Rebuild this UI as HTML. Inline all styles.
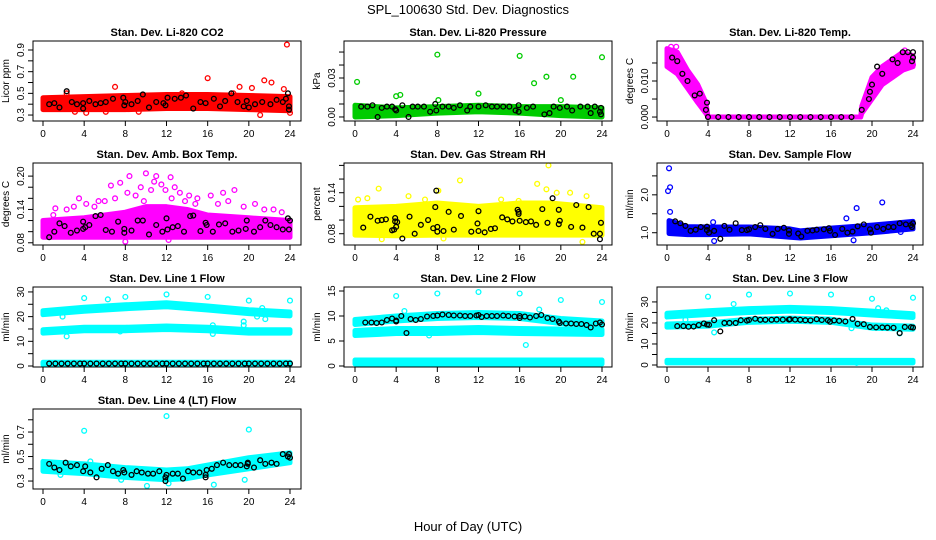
<!DOCTYPE html>
<html><head><meta charset="utf-8"><style>
html,body{margin:0;padding:0;background:#fff;}
svg{display:block;font-family:"Liberation Sans",Arial,sans-serif;}
</style></head><body>
<svg id="chart" width="936" height="540" viewBox="0 0 936 540" xmlns="http://www.w3.org/2000/svg">
<rect x="0" y="0" width="936" height="540" fill="#fff"/>
<text x="468" y="14" text-anchor="middle" font-size="13">SPL_100630  Std. Dev. Diagnostics</text>
<text x="468" y="531" text-anchor="middle" font-size="13">Hour of Day (UTC)</text>
</svg>
<script>
// ---- shared
const xTicks = [0,4,8,12,16,20,24];
// ---- CO2
const co2Band = [[0,0.35,0.46],[4,0.35,0.47],[8,0.35,0.48],[12,0.36,0.49],[16,0.36,0.49],[20,0.35,0.48],[24,0.34,0.47]];
const co2Out = [[7,0.56],[16,0.64],[21.5,0.62],[22.2,0.6],[20.3,0.55],[23.4,0.54],[24,0.32],[19.1,0.56],[21.1,0.3],[23.7,0.95],[4.2,0.32],[0.3,0.44],[2.3,0.5],[13.5,0.5],[18.5,0.5],[3.1,0.33],[6.1,0.33],[9.3,0.33]];
const co2Black = [[0.6,0.4],[1.1,0.41],[1.6,0.37],[2.3,0.52],[2.8,0.42],[3.3,0.4],[3.9,0.41],[3.9,0.36],[4.5,0.43],[5.1,0.4],[5.6,0.41],[6.1,0.42],[6.8,0.45],[7.8,0.46],[8.0,0.42],[7.9,0.39],[8.6,0.4],[9.2,0.43],[9.7,0.49],[10.3,0.37],[11.0,0.42],[11.7,0.41],[12.1,0.46],[11.9,0.39],[12.8,0.45],[13.4,0.46],[13.9,0.48],[14.6,0.36],[15.3,0.42],[15.8,0.41],[16.6,0.45],[17.2,0.38],[17.7,0.43],[18.3,0.5],[18.9,0.42],[19.5,0.38],[19.8,0.43],[20.0,0.37],[20.6,0.4],[21.3,0.42],[22.1,0.4],[22.7,0.44],[23.3,0.42],[23.6,0.45],[23.8,0.5],[23.9,0.38],[23.9,0.35]];
// ---- Pressure
const prBand = [[0,0.0,0.009],[4,0.001,0.007],[8,0.003,0.008],[12,0.004,0.009],[16,0.003,0.008],[20,0.001,0.008],[24,0.0,0.007]];
const prOut = [[0.2,0.027],[4.0,0.016],[4.4,0.017],[8,0.048],[8.1,0.013],[12,0.018],[16,0.047],[17.4,0.026],[18.6,0.031],[20,0.013],[21.2,0.031],[24,0.046]];
const prBlack = [[0.6,0.008],[1.2,0.008],[1.7,0.009],[2.2,0.0],[2.6,0.007],[3.1,0.008],[3.6,0.008],[3.9,0.006],[4.0,0.005],[4.6,0.009],[5.2,0.0],[5.6,0.008],[6.1,0.008],[6.7,0.008],[7.3,0.004],[7.8,0.010],[7.9,0.005],[8.5,0.008],[9.1,0.008],[9.6,0.007],[10.2,0.009],[10.9,0.005],[11.2,0.008],[12.0,0.008],[12.7,0.009],[13.3,0.008],[13.8,0.008],[14.4,0.008],[15.0,0.008],[15.6,0.005],[15.9,0.004],[15.9,0.009],[16.7,0.007],[17.3,0.008],[18.4,0.002],[18.9,0.003],[19.3,0.008],[19.9,0.007],[20.6,0.008],[21.1,0.005],[21.9,0.008],[22.6,0.008],[22.9,0.003],[23.3,0.008],[23.8,0.004],[23.9,0.007],[23.9,0.002]];
// ---- Li-820 Temp
const tpBand = [[0,0.014,0.019],[1,0.012,0.018],[2,0.008,0.013],[3,0.004,0.009],[3.8,0.001,0.004],[4,0,0],[18.9,0,0],[19,0.001,0.003],[20,0.005,0.011],[21,0.009,0.014],[22,0.011,0.016],[23,0.013,0.018],[24,0.014,0.017]];
const tpOut = [[0.4,0.0195],[0.9,0.0195],[23.2,0.0185],[20.7,0.0085],[24,0.0145]];
const tpBlack = [[0.5,0.0165],[1,0.0155],[1.5,0.012],[2,0.010],[2.7,0.006],[3.2,0.0065],[3.9,0.004],[3.8,0.002],[4,0],[5,0],[6,0],[7,0],[8,0],[9,0],[10,0],[11,0],[12,0],[13,0],[14,0],[15,0],[16,0],[17,0],[18,0],[19,0.002],[19.7,0.005],[19.8,0.007],[20,0.009],[20.5,0.014],[21,0.012],[22,0.016],[22.5,0.015],[23,0.018],[23.5,0.018],[24,0.018],[24,0.0165],[23.9,0.0155]];
// ---- Amb Box Temp
const abBand = [[0,0.09,0.12],[4,0.09,0.125],[8,0.09,0.135],[10,0.09,0.145],[12,0.09,0.145],[14,0.09,0.14],[16,0.09,0.13],[20,0.09,0.125],[24,0.09,0.12]];
const abOut = [[10,0.205],[8.4,0.2],[11,0.2],[12.4,0.198],[6.6,0.183],[7.5,0.188],[3.5,0.16],[4.2,0.15],[17.5,0.17],[18.6,0.175],[12.2,0.085],[8,0.082],[1.2,0.142],[20.6,0.15],[5.4,0.155],[2.3,0.14],[22.4,0.14],[9.5,0.18],[10.5,0.175],[11.5,0.185],[12.8,0.18],[13.3,0.17],[9,0.165],[8.2,0.17],[10.8,0.19],[11.9,0.175],[14.2,0.165],[15,0.16],[16.3,0.165],[7,0.16],[6,0.155],[14.8,0.15],[9.8,0.155],[12.5,0.16],[13.8,0.155],[17,0.15],[18,0.155],[19.5,0.145],[21.5,0.14],[3,0.145],[1,0.13],[5,0.145],[23.2,0.135]];
const abBlack = [[0.6,0.09],[1.1,0.1],[1.6,0.115],[2.1,0.11],[2.7,0.098],[3.3,0.102],[3.9,0.118],[3.9,0.105],[4.1,0.108],[4.5,0.112],[5.1,0.128],[5.6,0.13],[6.1,0.103],[6.7,0.1],[7.3,0.118],[7.9,0.105],[7.9,0.098],[8.6,0.102],[9.2,0.12],[9.7,0.12],[10.3,0.095],[11.0,0.112],[11.6,0.1],[12.0,0.124],[12.1,0.104],[12.6,0.108],[13.1,0.11],[13.7,0.1],[14.3,0.128],[14.6,0.129],[15.3,0.101],[15.8,0.116],[15.9,0.112],[16.5,0.1],[17.1,0.113],[17.7,0.115],[18.4,0.1],[19.0,0.102],[19.7,0.105],[19.8,0.12],[20.5,0.1],[21.1,0.108],[21.6,0.12],[22.1,0.112],[22.7,0.108],[23.3,0.104],[23.9,0.104],[23.8,0.124],[24,0.12]];
// ---- Gas Stream RH
const rhBand = [[0,0.078,0.118],[4,0.077,0.12],[8,0.078,0.125],[12,0.078,0.12],[16,0.078,0.125],[19,0.078,0.125],[24,0.078,0.118]];
const rhOut = [[18.8,0.18],[10.2,0.158],[2.3,0.146],[0.3,0.13],[1.2,0.132],[17.7,0.153],[18.6,0.145],[8.1,0.143],[19.6,0.14],[20.9,0.14],[22.5,0.135],[5.2,0.135],[15.9,0.128],[22.1,0.068],[2.6,0.072],[8.6,0.073],[6.8,0.13],[14.2,0.13]];
const rhBlack = [[0.8,0.089],[1.5,0.105],[2.2,0.099],[2.6,0.1],[3.0,0.101],[3.6,0.085],[3.8,0.086],[4.0,0.09],[3.9,0.098],[3.9,0.103],[4.1,0.097],[4.6,0.073],[5.3,0.105],[5.8,0.08],[6.4,0.093],[7.1,0.1],[7.6,0.088],[8.0,0.09],[8.0,0.083],[7.9,0.143],[7.8,0.119],[8.6,0.084],[9.1,0.112],[9.6,0.086],[10.3,0.106],[11.3,0.083],[12.0,0.113],[11.9,0.095],[12.0,0.084],[12.6,0.082],[13.2,0.087],[13.6,0.088],[14.3,0.104],[14.8,0.101],[15.3,0.098],[15.9,0.109],[15.9,0.112],[15.8,0.115],[16.0,0.099],[16.6,0.097],[17.1,0.098],[17.6,0.093],[18.2,0.116],[18.7,0.096],[19.2,0.132],[19.8,0.094],[19.9,0.099],[19.8,0.115],[21.0,0.09],[21.5,0.122],[22.1,0.089],[22.7,0.119],[23.2,0.08],[23.8,0.08],[23.8,0.072],[23.9,0.096]];
// ---- Sample Flow
const sfBand = [[0.2,0.98,1.32],[2,0.95,1.16],[4,0.95,1.15],[8,0.97,1.15],[12,0.88,1.1],[13,0.86,1.05],[16,0.92,1.12],[20,1.0,1.2],[24,1.1,1.3]];
const sfOut = [[0.2,2.7],[0.3,2.2],[0.1,2.1],[0.3,1.55],[17.5,1.38],[18.5,1.65],[21,1.8],[4.6,0.78],[22.8,1.02],[4.5,1.28],[18.2,0.8]];
const sfBlack = [[0.8,1.3],[1.3,1.25],[1.8,1.18],[2.3,1.05],[2.8,1.08],[3.3,1.15],[3.9,1.16],[3.9,1.07],[4.1,1.0],[4.6,1.05],[5.2,0.84],[5.6,1.18],[6.1,1.08],[6.7,1.25],[7.3,1.07],[7.8,1.07],[8.0,1.09],[8.6,1.15],[9.1,1.2],[9.6,1.1],[10.3,0.97],[10.8,1.1],[11.4,1.13],[11.9,1.06],[11.9,0.97],[12.8,0.98],[13.1,0.9],[13.7,1.05],[14.2,1.06],[14.6,1.08],[15.3,1.09],[15.8,1.12],[15.9,1.05],[16.4,0.94],[17.1,1.1],[17.6,1.0],[18.1,1.03],[18.6,1.17],[19.2,1.22],[19.8,1.09],[19.9,1.0],[20.5,1.15],[21.1,1.1],[21.6,1.15],[22.1,1.15],[22.7,1.25],[23.3,1.22],[23.8,1.2],[23.9,1.15],[24,1.25]];
// ---- Line 1 Flow
const l1BandTop = [[0,20.8,22.4],[4,22.2,23.8],[8,23.2,24.8],[12,24,25.6],[16,22.7,24.3],[20,21.2,22.8],[24,20.3,21.9]];
const l1BandMid = [[0,13.3,14.7],[4,14.3,15.7],[8,14.3,15.7],[12,14.8,16.2],[16,14.3,15.7],[20,13.3,14.7],[24,13.3,14.7]];
const l1BandLow = [[0,0.5,1.5],[24,0.5,1.5]];
const l1Out = [[4,27.5],[6.3,27],[8,28],[12,29],[16,28],[20,26.5],[24,26.5],[1.9,20],[2.3,12],[16.5,13],[20.8,20],[21.3,23.5],[21.6,19],[19.5,18],[19.5,16.5],[7.5,14],[16.5,16.5],[6,24]];
const l1Black = [[0.6,1],[1.2,1],[1.8,1],[2.4,1],[3,1],[3.6,1],[4,1],[4.6,1],[5.2,1],[5.8,1],[6.4,1],[7,1],[7.6,1],[8,1],[8.6,1],[9.2,1],[9.8,1],[10.4,1],[11,1],[11.6,1],[12,1],[12.6,1],[13.2,1],[13.8,1],[14.4,1],[15,1],[15.6,1],[16,1],[16.6,1],[17.2,1],[17.8,1],[18.4,1],[19,1],[19.6,1],[20,1],[20.6,1],[21.2,1],[21.8,1],[22.4,1],[23,1],[23.6,1],[24,1]];
// ---- Line 2 Flow
const l2BandTop = [[0,8.3,9.3],[4,9,10],[8,9.5,10.5],[12,9.7,10.7],[16,9.5,10.5],[20,8.5,9.5],[24,8,9]];
const l2BandMid = [[0,6.1,7.1],[4,6.5,7.5],[8,6.5,7.5],[12,6.7,7.7],[16,6.5,7.5],[20,6.4,7.4],[24,6.3,7.3]];
const l2BandLow = [[0,0.4,1.2],[24,0.4,1.2]];
const l2Out = [[4,14],[8,14.5],[12,14.8],[16,14.5],[20,13.2],[24,12.8],[16.6,4.2],[4.8,11],[17.9,11.3],[7.2,6.1]];
const l2Black = [[1,8.7],[1.6,8.7],[2.1,8.6],[2.6,8.7],[3.1,9.2],[3.6,9.5],[4,9.1],[4,8.9],[4.5,10],[5,6.6],[5.4,9.4],[5.9,9.2],[6.4,9.4],[7,9.9],[7.6,10],[8,10.1],[8.5,10.3],[9.1,10.2],[9.6,10.1],[10.2,10.1],[10.7,10],[11.2,10],[11.8,10.1],[12,10.2],[12.3,9.8],[12.8,10],[13.3,10],[13.8,10],[14.4,10.1],[14.9,10],[15.5,9.9],[16,9.6],[16,10],[16.5,9.9],[17,9.7],[17.6,10],[18.1,10.2],[18.7,9.6],[19.2,9.4],[19.8,8.9],[19.9,8.6],[20.5,8.5],[21,8.5],[21.5,8.4],[22,8.4],[22.5,8.2],[22.9,7.7],[23.4,8.5],[23.8,8.7],[24,8.3]];
// ---- Line 3 Flow
const l3BandTop = [[0,22.8,24.6],[4,24,25.8],[8,25,26.8],[12,25.6,27.4],[16,25,26.8],[20,23.8,25.6],[24,22.6,24.4]];
const l3BandMid = [[0,18,19.5],[4,18.5,20],[8,20.3,21.8],[12,20.8,22.3],[16,20.3,21.8],[20,17.5,19],[24,17,18.5]];
const l3BandLow = [[0,1,2.2],[24,1,2.2]];
const l3Out = [[4,32.5],[8,33.5],[12,34],[16,33.5],[20,31.5],[24,32],[6.5,29],[4.6,15.5],[22.7,15],[1.8,21.5],[20.6,27],[21.4,26],[18,17.5],[18.5,1]];
const l3Black = [[1,18.5],[1.6,18.5],[2.1,18.2],[2.6,18.3],[3.1,19],[3.6,19.8],[3.9,19.2],[4.1,19.1],[4.6,21.3],[5.2,16],[5.6,20],[6.1,20],[6.7,20],[7.2,21.3],[7.8,21.1],[8,21.4],[8.6,22],[9.1,21.5],[9.6,21.5],[10.2,21.5],[10.7,21.6],[11.3,21.6],[11.9,21.6],[12,21.8],[12.5,21.6],[13,21.5],[13.5,21.3],[14,21.2],[14.6,21.8],[15.1,21.4],[15.7,21.3],[15.9,20.6],[16.3,21.2],[16.8,21],[17.4,20.7],[18.1,21.9],[18.6,19.6],[19.2,19.4],[19.8,18.1],[20.4,17.9],[21,17.9],[21.5,17.8],[22.1,17.7],[22.7,15.2],[23.2,18.1],[23.8,18],[24,17.8]];
// ---- Line 4 (LT) Flow
const l4Band = [[0,0.38,0.46],[4,0.36,0.44],[8,0.33,0.41],[12,0.31,0.39],[14,0.32,0.4],[16,0.35,0.43],[20,0.4,0.49],[24,0.45,0.53]];
const l4Out = [[12,0.83],[4,0.71],[20,0.72],[19.6,0.31],[16.6,0.27],[10.1,0.26],[1.7,0.35],[4.6,0.46],[7.6,0.31],[12.2,0.28]];
const l4Black = [[0.6,0.44],[1.1,0.41],[1.6,0.39],[2.2,0.45],[2.7,0.42],[3.3,0.43],[3.9,0.38],[4.1,0.42],[4.6,0.37],[5.2,0.33],[5.7,0.4],[6.3,0.43],[6.8,0.38],[7.3,0.36],[7.8,0.39],[7.9,0.37],[8.6,0.35],[9.1,0.38],[9.6,0.37],[10.2,0.36],[10.7,0.36],[11.3,0.38],[11.9,0.3],[11.9,0.33],[12.0,0.35],[12.6,0.36],[13.1,0.36],[13.6,0.32],[14.1,0.38],[14.6,0.37],[15.2,0.37],[15.8,0.33],[15.8,0.35],[15.9,0.39],[16.4,0.4],[16.9,0.43],[17.5,0.45],[18.1,0.43],[18.7,0.43],[19.2,0.43],[19.8,0.42],[19.9,0.44],[19.9,0.45],[20.5,0.41],[21.1,0.47],[21.6,0.44],[22.2,0.45],[22.7,0.44],[23.3,0.52],[23.8,0.5],[23.9,0.52],[24,0.49]];

const panels = [
 {name:'co2',title:'Stan. Dev. Li-820 CO2',ylab:'Licor ppm',col:'#ff0000',box:[33,41,301,121],x0:43,x24:290,ymin:0.245,ymax:0.983,ticks:[0.3,0.4,0.5,0.6,0.7,0.8,0.9],labs:[0.3,0.5,0.7,0.9],dec:1,bands:[co2Band],out:co2Out,black:co2Black},
 {name:'pressure',title:'Stan. Dev. Li-820 Pressure',ylab:'kPa',col:'#00cc00',box:[344,41,612,121],x0:355,x24:602,ymin:-0.0031,ymax:0.0585,ticks:[0,0.01,0.02,0.03,0.04,0.05],labs:[0,0.03],dec:2,bands:[prBand],out:prOut,black:prBlack},
 {name:'temp',title:'Stan. Dev. Li-820 Temp.',ylab:'degrees C',col:'#ff00ff',box:[657,41,923,121],x0:667,x24:913,ymin:-0.0011,ymax:0.0211,ticks:[0,0.005,0.01,0.015],labs:[0,0.01],dec:3,bands:[tpBand],out:tpOut,black:tpBlack},
 {name:'amb-box',title:'Stan. Dev. Amb. Box Temp.',ylab:'degrees C',col:'#ff00ff',box:[33,163,301,245],x0:43,x24:290,ymin:0.076,ymax:0.2236,ticks:[0.08,0.1,0.12,0.14,0.16,0.18,0.2],labs:[0.08,0.14,0.2],dec:2,bands:[abBand],out:abOut,black:abBlack},
 {name:'gas-rh',title:'Stan. Dev. Gas Stream RH',ylab:'percent',col:'#ffff00',box:[344,163,612,245],x0:355,x24:602,ymin:0.0635,ymax:0.1835,ticks:[0.08,0.1,0.12,0.14,0.16,0.18],labs:[0.08,0.14],dec:2,bands:[rhBand],out:rhOut,black:rhBlack},
 {name:'sample-flow',title:'Stan. Dev. Sample Flow',ylab:'ml/min',col:'#0000ff',box:[657,163,923,245],x0:667,x24:913,ymin:0.676,ymax:2.84,ticks:[1,1.5,2,2.5],labs:[1,2],dec:1,bands:[sfBand],out:sfOut,black:sfBlack},
 {name:'line1',title:'Stan. Dev. Line 1 Flow',ylab:'ml/min',col:'#00ffff',box:[33,287,301,367],x0:43,x24:290,ymin:-0.4,ymax:32,ticks:[0,5,10,15,20,25,30],labs:[0,10,20,30],dec:0,bands:[l1BandTop,l1BandMid,l1BandLow],out:l1Out,black:l1Black},
 {name:'line2',title:'Stan. Dev. Line 2 Flow',ylab:'ml/min',col:'#00ffff',box:[344,287,612,367],x0:355,x24:602,ymin:-0.2,ymax:15.8,ticks:[0,5,10,15],labs:[0,5,10,15],dec:0,bands:[l2BandTop,l2BandMid,l2BandLow],out:l2Out,black:l2Black},
 {name:'line3',title:'Stan. Dev. Line 3 Flow',ylab:'ml/min',col:'#00ffff',box:[657,287,923,367],x0:667,x24:913,ymin:-0.95,ymax:37.1,ticks:[0,5,10,15,20,25,30],labs:[0,10,20,30],dec:0,bands:[l3BandTop,l3BandMid,l3BandLow],out:l3Out,black:l3Black},
 {name:'line4',title:'Stan. Dev. Line 4 (LT) Flow',ylab:'ml/min',col:'#00ffff',box:[33,409,301,489],x0:43,x24:290,ymin:0.235,ymax:0.888,ticks:[0.3,0.4,0.5,0.6,0.7,0.8],labs:[0.3,0.5,0.7],dec:1,bands:[l4Band],out:l4Out,black:l4Black}
];

const NS='http://www.w3.org/2000/svg';
const svg=document.getElementById('chart');
function mk(tag,attrs,parent){const e=document.createElementNS(NS,tag);for(const k in attrs)e.setAttribute(k,attrs[k]);(parent||svg).appendChild(e);return e;}

panels.forEach(p=>{
  const g=mk('g',{});
  
  
  const [L,T,R,B]=p.box;
  const xs=h=>p.x0+(p.x24-p.x0)*h/24;
  const ys=v=>B-(v-p.ymin)/(p.ymax-p.ymin)*(B-T);
  p.bands.forEach((band,bi)=>{
    const up=band.map(d=>xs(d[0])+','+ys(d[2])).join(' ');
    const lo=band.slice().reverse().map(d=>xs(d[0])+','+ys(d[1])).join(' ');
    const poly=mk('polygon',{points:up+' '+lo,fill:p.col,stroke:p.col,'stroke-width':5,'stroke-linejoin':'round'},g);
    
    
  });
  p.out.forEach(d=>{
    const c=mk('circle',{cx:xs(d[0]),cy:ys(d[1]),r:2.4,fill:'none',stroke:p.col,'stroke-width':1.3},g);
    
    
  });
  p.black.forEach(d=>{
    const c=mk('circle',{cx:xs(d[0]),cy:ys(d[1]),r:2.4,fill:'none',stroke:'#000','stroke-width':1.3},g);
    
    
  });
  const bx=mk('rect',{x:L,y:T,width:R-L,height:B-T,fill:'none',stroke:'#000','stroke-width':1},g);
  
  
  const t=mk('text',{x:(L+R)/2,y:T-5,'text-anchor':'middle','font-size':11,'font-weight':'bold'},g);
  t.textContent=p.title;
  
  
  xTicks.forEach(h=>{
    const tk=mk('line',{x1:xs(h),x2:xs(h),y1:B,y2:B+5,stroke:'#000'},g);
    
    
    const tl=mk('text',{x:xs(h),y:B+16,'text-anchor':'middle','font-size':10},g);
    tl.textContent=h;
    
    
  });
  p.ticks.forEach(v=>{
    const tk=mk('line',{x1:L-5,x2:L,y1:ys(v),y2:ys(v),stroke:'#000'},g);
    
    
  });
  p.labs.forEach(v=>{
    const x=L-9,y=ys(v);
    const tl=mk('text',{x:x,y:y,'text-anchor':'middle','font-size':10,transform:'rotate(-90 '+x+' '+y+')'},g);
    tl.textContent=v.toFixed(p.dec);
    
    
  });
  const yx=L-24,yy=(T+B)/2;
  const yl=mk('text',{x:yx,y:yy,'text-anchor':'middle','font-size':10,transform:'rotate(-90 '+yx+' '+yy+')'},g);
  yl.textContent=p.ylab;
  
  
});
</script>
</body></html>
